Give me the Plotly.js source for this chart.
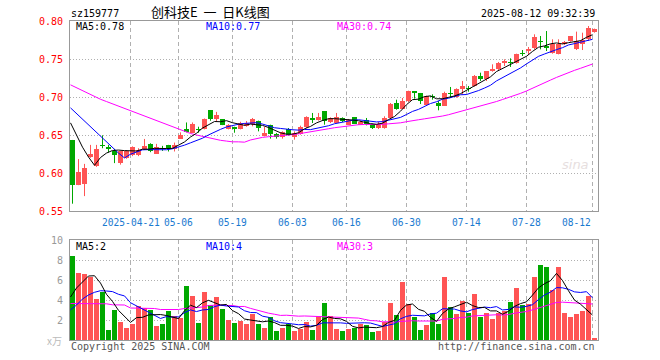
<!DOCTYPE html>
<html><head><meta charset="utf-8">
<script src="https://cdn.plot.ly/plotly-3.0.1.min.js"></script>
<style>html,body{margin:0;padding:0;background:#fff}#c{width:660px;height:360px}</style>
</head><body><div id="c"></div>
<script>
const dates = ['2025-04-07','2025-04-08','2025-04-09','2025-04-10','2025-04-11','2025-04-14','2025-04-15','2025-04-16','2025-04-17','2025-04-18',
'2025-04-21','2025-04-22','2025-04-23','2025-04-24','2025-04-25','2025-04-28','2025-04-29','2025-04-30',
'2025-05-06','2025-05-07','2025-05-08','2025-05-09','2025-05-12','2025-05-13','2025-05-14','2025-05-15','2025-05-16','2025-05-19','2025-05-20','2025-05-21','2025-05-22','2025-05-23','2025-05-26','2025-05-27','2025-05-28','2025-05-29','2025-05-30',
'2025-06-03','2025-06-04','2025-06-05','2025-06-06','2025-06-09','2025-06-10','2025-06-11','2025-06-12','2025-06-13','2025-06-16','2025-06-17','2025-06-18','2025-06-19','2025-06-20','2025-06-23','2025-06-24','2025-06-25','2025-06-26','2025-06-27','2025-06-30',
'2025-07-01','2025-07-02','2025-07-03','2025-07-04','2025-07-07','2025-07-08','2025-07-09','2025-07-10','2025-07-11','2025-07-14','2025-07-15','2025-07-16','2025-07-17','2025-07-18','2025-07-21','2025-07-22','2025-07-23','2025-07-24','2025-07-25','2025-07-28','2025-07-29','2025-07-30','2025-07-31',
'2025-08-01','2025-08-04','2025-08-05','2025-08-06','2025-08-07','2025-08-08','2025-08-11','2025-08-12'];

const opens = [0.6435,0.5848,0.5857,0.6206,0.6096,0.6365,0.6340,0.6283,0.6135,0.6196,
0.6240,0.6240,0.6317,0.6383,0.6252,0.6330,0.6370,0.6313,0.6448,0.6578,
0.6530,0.6578,0.6574,0.6826,0.6717,0.6709,0.6574,0.6609,0.6574,0.6622,
0.6645,0.6689,0.6482,0.6627,0.6513,0.6469,0.6579,0.6469,0.6513,0.6600,
0.6724,0.6693,0.6811,0.6671,0.6662,0.6724,0.6636,0.6737,0.6636,0.6702,
0.6645,0.6592,0.6592,0.6724,0.6921,0.6846,0.6943,0.7075,0.7053,0.6899,
0.7013,0.6925,0.6882,0.7048,0.7000,0.7101,0.7118,0.7145,0.7276,0.7232,
0.7342,0.7364,0.7443,0.7460,0.7443,0.7579,0.7605,0.7640,0.7737,0.7671,
0.7583,0.7570,0.7693,0.7737,0.7627,0.7693,0.7759,0.7860];
const highs = [0.6435,0.6183,0.6120,0.6370,0.6370,0.6496,0.6370,0.6317,0.6283,0.6296,
0.6350,0.6326,0.6448,0.6391,0.6383,0.6357,0.6370,0.6400,0.6535,0.6665,
0.6665,0.6609,0.6717,0.6826,0.6804,0.6709,0.6643,0.6609,0.6674,0.6683,
0.6724,0.6689,0.6605,0.6636,0.6526,0.6548,0.6592,0.6548,0.6623,0.6746,
0.6790,0.6790,0.6811,0.6732,0.6790,0.6732,0.6711,0.6737,0.6689,0.6724,
0.6649,0.6671,0.6746,0.6921,0.6965,0.6987,0.7083,0.7075,0.7053,0.7018,
0.7035,0.6947,0.7070,0.7132,0.7114,0.7211,0.7145,0.7289,0.7320,0.7342,
0.7430,0.7461,0.7496,0.7509,0.7570,0.7618,0.7658,0.7825,0.7803,0.7868,
0.7759,0.7759,0.7737,0.7803,0.7860,0.7846,0.7934,0.7900];
const lows = [0.5596,0.5840,0.5696,0.6200,0.6080,0.6326,0.6270,0.6130,0.6110,0.6187,
0.6222,0.6222,0.6304,0.6274,0.6252,0.6291,0.6283,0.6283,0.6448,0.6535,
0.6530,0.6530,0.6574,0.6687,0.6674,0.6630,0.6574,0.6530,0.6574,0.6609,
0.6614,0.6548,0.6482,0.6452,0.6452,0.6452,0.6491,0.6439,0.6504,0.6592,
0.6658,0.6689,0.6636,0.6658,0.6654,0.6671,0.6636,0.6645,0.6636,0.6627,
0.6579,0.6579,0.6583,0.6715,0.6833,0.6842,0.6934,0.6978,0.6908,0.6890,
0.6965,0.6825,0.6882,0.6991,0.6991,0.7035,0.7070,0.7136,0.7211,0.7211,
0.7333,0.7355,0.7408,0.7395,0.7439,0.7539,0.7561,0.7627,0.7627,0.7605,
0.7570,0.7561,0.7684,0.7728,0.7618,0.7618,0.7737,0.7847];
const closes = [0.5846,0.6017,0.6070,0.6254,0.6320,0.6357,0.6310,0.6240,0.6283,0.6283,
0.6339,0.6304,0.6357,0.6283,0.6339,0.6317,0.6313,0.6370,0.6500,0.6543,
0.6643,0.6561,0.6709,0.6713,0.6761,0.6630,0.6630,0.6574,0.6652,0.6652,
0.6711,0.6592,0.6526,0.6513,0.6478,0.6535,0.6504,0.6526,0.6605,0.6737,
0.6693,0.6737,0.6680,0.6724,0.6741,0.6680,0.6693,0.6649,0.6671,0.6645,
0.6592,0.6645,0.6724,0.6908,0.6846,0.6943,0.7075,0.7053,0.6943,0.7009,
0.6995,0.6882,0.7057,0.7035,0.7101,0.7145,0.7105,0.7276,0.7241,0.7342,
0.7364,0.7452,0.7474,0.7443,0.7561,0.7565,0.7636,0.7794,0.7719,0.7649,
0.7702,0.7693,0.7728,0.7803,0.7737,0.7746,0.7912,0.7900];
const volumes = [8.45,6.68,6.58,6.32,4.11,4.77,1.05,3.03,1.84,1.25,
1.64,3.42,3.19,3.03,1.45,1.64,2.93,2.43,2.24,5.39,
4.41,1.74,4.80,3.50,4.31,3.13,2.04,1.74,1.94,1.64,
2.63,1.64,1.25,2.34,0.86,1.25,1.64,0.86,1.15,1.84,
1.05,2.43,3.72,2.43,1.15,0.86,1.15,1.25,1.64,1.55,
0.76,0.95,1.84,3.72,2.53,5.79,3.62,2.34,1.05,1.55,
2.73,1.64,6.28,3.32,2.63,3.91,2.73,4.61,2.34,2.73,
2.14,2.73,2.93,3.82,5.20,3.52,3.62,6.28,7.47,7.27,
5.00,7.27,2.73,2.34,2.63,2.93,4.41,0.16];

const priceMa5Head = [0.666,0.650,0.634,0.621];
const priceMa10Head = [0.6857,0.6781,0.6708,0.6632,0.6560,0.6484,0.6410,0.6337,0.6262];
const priceMa30Head = [0.716,0.712,0.708,0.704,0.700,0.697,0.694,0.691,0.688,0.684,
0.681,0.678,0.675,0.672,0.669,0.666,0.663,0.660,0.657,0.654,
0.652,0.650,0.648,0.646,0.644,0.643,0.642,0.641,0.641];
const volMa5Head = [4.3,5.2,5.8,6.4];
const volMa10Head = [3.0,3.5,4.1,4.5,4.77,4.93,4.9,4.84,4.57];
const volMa30Head = [3.65,3.65,3.65,3.65,3.65,3.65,3.62,3.52,3.52,3.50,
3.20,3.19,3.19,3.19,3.15,3.05,3.03,3.03,3.05,3.15,
3.20,3.20,3.30,3.45,3.50,3.50,3.45,3.45,3.35];

const axisLabelDates = ['2025-04-21','2025-05-06','2025-05-19','2025-06-03','2025-06-16','2025-06-30','2025-07-14','2025-07-28','2025-08-12'];
const axisLabelTexts = ['2025-04-21','05-06','05-19','06-03','06-16','06-30','07-14','07-28','08-12'];
const priceTicks = [0.55,0.60,0.65,0.70,0.75,0.80];
const volTicks = [2,4,6,8,10];

const stockCode = 'sz159777';
const chartTitle = '创科技E 一 日K线图';
const stamp = '2025-08-12 09:32:39';
const priceLegend = ['MA5:0.78','MA10:0.77','MA30:0.74'];
const volLegend = ['MA5:2','MA10:4','MA30:3'];

// ---------- build ----------
const N = dates.length;
const idx = dates.map((d,i)=>i);
function ma(arr, n, head){
  return arr.map((v,i)=>{
    if(i < head.length) return head[i];
    let s=0; for(let k=i-n+1;k<=i;k++) s+=arr[k]; return s/n;
  });
}
const RED='#ff5454', GREEN='#00a800';
const up = idx.map(i=>closes[i]>=opens[i]);
const colors = up.map(u=>u?RED:GREEN);
const lineX = idx.map(i=>i-0.333);
const gridX = axisLabelDates.map(d=>dates.indexOf(d)-0.333);

function wicks(sel){
  const x=[],y=[];
  idx.forEach(i=>{ if(up[i]===sel){ x.push(i,i,null); y.push(lows[i],highs[i],null);} });
  return {x,y};
}
const wUp=wicks(true), wDn=wicks(false);

const traces = [
  {type:'scatter',mode:'lines',x:wUp.x,y:wUp.y,line:{color:RED,width:1},xaxis:'x',yaxis:'y',hoverinfo:'skip'},
  {type:'scatter',mode:'lines',x:wDn.x,y:wDn.y,line:{color:GREEN,width:1},xaxis:'x',yaxis:'y',hoverinfo:'skip'},
  {type:'bar',x:idx,base:idx.map(i=>Math.min(opens[i],closes[i])),
   y:idx.map(i=>Math.max(Math.abs(closes[i]-opens[i]),0.0013)),width:0.8333,
   marker:{color:colors,line:{width:0}},xaxis:'x',yaxis:'y',hoverinfo:'skip'},
  {type:'scatter',mode:'lines',x:lineX,y:ma(closes,30,priceMa30Head),line:{color:'#ff00ff',width:1},xaxis:'x',yaxis:'y'},
  {type:'scatter',mode:'lines',x:lineX,y:ma(closes,10,priceMa10Head),line:{color:'#0000ff',width:1},xaxis:'x',yaxis:'y'},
  {type:'scatter',mode:'lines',x:lineX,y:ma(closes,5,priceMa5Head),line:{color:'#000000',width:1},xaxis:'x',yaxis:'y'},
  {type:'bar',x:idx,y:volumes,width:0.8333,marker:{color:colors,line:{width:0}},xaxis:'x2',yaxis:'y2',hoverinfo:'skip'},
  {type:'scatter',mode:'lines',x:lineX,y:ma(volumes,30,volMa30Head),line:{color:'#ff00ff',width:1},xaxis:'x2',yaxis:'y2'},
  {type:'scatter',mode:'lines',x:lineX,y:ma(volumes,10,volMa10Head),line:{color:'#0000ff',width:1},xaxis:'x2',yaxis:'y2'},
  {type:'scatter',mode:'lines',x:lineX,y:ma(volumes,5,volMa5Head),line:{color:'#000000',width:1},xaxis:'x2',yaxis:'y2'}
];

const L=70, R=598, T=21, B=340;
const W=R-L, H=B-T;
const px = x => (x-L)/W;
const py = y => (B-y)/H;
const MONO = 'DejaVu Sans Mono, Liberation Mono, monospace';
const GRID = '#b0b0b0', BORDER='#999999';

const xr = [-0.4167, N-0.4167];
const annotations = [];
function txt(text,x,y,color,size,anchor,family){
  annotations.push({text:text,xref:'paper',yref:'paper',x:px(x),y:py(y),xanchor:anchor||'left',yanchor:'middle',
    showarrow:false,font:{family:family||MONO,size:size||10,color:color||'#000'}});
}
txt(stockCode,69,13,'#000',10);
txt(chartTitle.replace(/ /g,'\u00a0\u00a0'),149,12,'#000',13,'left','Noto Sans CJK SC');
txt(stamp,597,13,'#000',10,'right');
txt(priceLegend[0],74,27,'#000',10);
txt(priceLegend[1],204,27,'#0000ff',10);
txt(priceLegend[2],335,27,'#ff00ff',10);
txt(volLegend[0],74,247,'#000',10);
txt(volLegend[1],204,247,'#0000ff',10);
txt(volLegend[2],335,247,'#ff00ff',10);
txt('x万',64,340,'#bbbbbb',10,'right','Noto Sans CJK SC');
txt('Copyright 2025 SINA.COM',69,346,'#555',10);
txt('http://finance.sina.com.cn',597,346,'#555',10,'right');
annotations.push({text:'<i>sina</i>',xref:'paper',yref:'paper',x:px(575),y:py(164),xanchor:'center',yanchor:'middle',
  showarrow:false,font:{family:'DejaVu Sans',size:13,color:'#e6dede'}});
axisLabelDates.forEach((d,k)=>{
  const last = k===axisLabelDates.length-1;
  annotations.push({text:axisLabelTexts[k],xref:'x',yref:'paper',x:gridX[k],y:py(222),
    xanchor:last?'right':'center',yanchor:'middle',showarrow:false,
    font:{family:MONO,size:9.6,color:'#1a7ad0'}});
});

const layout = {
  width:660,height:360,margin:{l:L,r:660-R,t:T,b:360-B},
  paper_bgcolor:'#fff',plot_bgcolor:'#fff',showlegend:false,bargap:0,
  xaxis:{anchor:'y',range:xr,tickvals:gridX,showticklabels:false,ticks:'',showgrid:true,gridcolor:GRID,griddash:'4px,3px',gridwidth:1,
    zeroline:false,showline:true,mirror:true,linecolor:BORDER,linewidth:1},
  xaxis2:{anchor:'y2',matches:'x',range:xr,tickvals:gridX,showticklabels:false,ticks:'',showgrid:true,gridcolor:GRID,griddash:'4px,3px',gridwidth:1,
    zeroline:false,showline:true,mirror:true,linecolor:BORDER,linewidth:1},
  yaxis:{domain:[py(211),1],range:[0.55,0.80],tickvals:priceTicks,ticktext:priceTicks.map(v=>v.toFixed(2)),
    ticks:'outside',ticklen:4,tickcolor:'rgba(0,0,0,0)',tickfont:{family:MONO,size:10,color:'#ff0000'},
    showgrid:true,gridcolor:GRID,griddash:'1px,2px',zeroline:false,showline:true,mirror:true,linecolor:BORDER,linewidth:1},
  yaxis2:{domain:[0,py(240)],range:[0,10],tickvals:volTicks,ticktext:volTicks.map(String),
    ticks:'outside',ticklen:4,tickcolor:'rgba(0,0,0,0)',tickfont:{family:MONO,size:10,color:'#999'},
    showgrid:true,gridcolor:GRID,griddash:'1px,2px',zeroline:false,showline:true,mirror:true,linecolor:BORDER,linewidth:1},
  yaxis3:{overlaying:'y2',side:'right',anchor:'x2',range:[0,10],tickvals:[2,4,6,8],ticks:'outside',ticklen:3,tickcolor:BORDER,
    showticklabels:false,showgrid:false,zeroline:false,showline:false},
  annotations:annotations
};
Plotly.newPlot('c',traces,layout,{staticPlot:true,displayModeBar:false});
</script></body></html>
